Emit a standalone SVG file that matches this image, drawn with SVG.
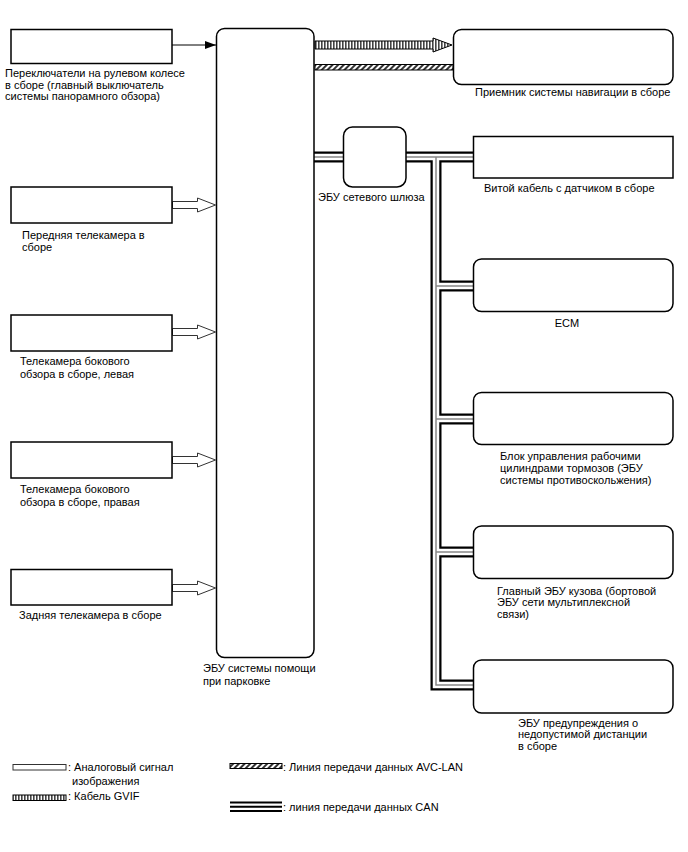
<svg xmlns="http://www.w3.org/2000/svg" width="688" height="852" viewBox="0 0 688 852">
<defs>
<style>
text{font-family:"Liberation Sans",Arial,sans-serif;font-size:11px;fill:#000}
.box{fill:#fff;stroke:#000;stroke-width:1.5}
.analog{fill:#fff;stroke:#333;stroke-width:1}
.canB{fill:none;stroke:#000;stroke-width:11}
.canW{fill:none;stroke:#fff;stroke-width:6.5}
.canG{fill:none;stroke:#888;stroke-width:1.5}
</style>
<pattern id="gvif" width="3" height="10" patternUnits="userSpaceOnUse">
<rect width="3" height="10" fill="#fff"/>
<rect width="1.6" height="10" fill="#444"/>
</pattern>
<pattern id="avc" width="4" height="4" patternUnits="userSpaceOnUse" patternTransform="rotate(45)">
<rect width="4" height="4" fill="#fff"/>
<rect width="2" height="4" fill="#333"/>
</pattern>
<marker id="tri" markerWidth="11" markerHeight="8" refX="11" refY="4" orient="auto" markerUnits="userSpaceOnUse">
<path d="M0,0 L11,4 L0,8 Z" fill="#000"/>
</marker>
<path id="analogArrow" d="M0,-3.5 H25 V-7 L43,0 L25,7 V3.5 H0 Z"/>
</defs>
<rect width="688" height="852" fill="#fff"/>

<g id="connectors">
<line x1="172" y1="45" x2="216" y2="45" stroke="#000" stroke-width="1" marker-end="url(#tri)"/>
<polygon points="315,41 433,41 433,38 452,45 433,52 433,49 315,49" fill="url(#gvif)" stroke="#000" stroke-width="1"/>
<rect x="315" y="64.5" width="138" height="5.5" fill="url(#avc)" stroke="#000" stroke-width="1"/>
<use href="#analogArrow" x="172.5" y="205" class="analog"/>
<use href="#analogArrow" x="172.5" y="332" class="analog"/>
<use href="#analogArrow" x="172.5" y="460" class="analog"/>
<use href="#analogArrow" x="172.5" y="588" class="analog"/>
<g id="can">
<path class="canB" d="M314,157 H343 M406,157 H473 M436,157 V685 H473 M436,286 H473 M436,419 H473 M436,552 H473"/>
<path class="canW" d="M314,157 H343 M406,157 H473 M436,157 V685 H473 M436,286 H473 M436,419 H473 M436,552 H473"/>
<path class="canG" d="M314,157 H343 M406,157 H473 M436,157 V685 H473 M436,286 H473 M436,419 H473 M436,552 H473"/>
</g>
</g>

<g id="steering-switch">
<rect class="box" x="11" y="29.5" width="161" height="34"/>
<text x="5" y="77">Переключатели на рулевом колесе</text>
<text x="5" y="88.7">в сборе (главный выключатель</text>
<text x="5" y="100.4">системы панорамного обзора)</text>
</g>
<g id="front-camera">
<rect class="box" x="11" y="187" width="161" height="36"/>
<text x="22" y="238.5">Передняя телекамера в</text>
<text x="22" y="251">сборе</text>
</g>
<g id="side-camera-left">
<rect class="box" x="11" y="315" width="161" height="36"/>
<text x="20" y="364.5">Телекамера бокового</text>
<text x="20" y="377.5">обзора в сборе, левая</text>
</g>
<g id="side-camera-right">
<rect class="box" x="11" y="442" width="161" height="36"/>
<text x="20" y="492.5">Телекамера бокового</text>
<text x="20" y="505.5">обзора в сборе, правая</text>
</g>
<g id="rear-camera">
<rect class="box" x="11" y="569.5" width="161" height="35.5"/>
<text x="19" y="619">Задняя телекамера в сборе</text>
</g>
<g id="parking-ecu">
<rect class="box" x="216.5" y="28.5" width="97.5" height="629" rx="8"/>
<text x="203" y="672">ЭБУ системы помощи</text>
<text x="203" y="684.5">при парковке</text>
</g>
<g id="nav-receiver">
<rect class="box" x="453.5" y="29.5" width="219.5" height="55" rx="8"/>
<text x="475" y="95.5">Приемник системы навигации в сборе</text>
</g>
<g id="gateway-ecu">
<rect class="box" x="343.5" y="127" width="62.5" height="60" rx="9"/>
<text x="318" y="201">ЭБУ сетевого шлюза</text>
</g>
<g id="spiral-cable">
<rect class="box" x="473.5" y="136.5" width="199.5" height="41.5"/>
<text x="484" y="191.5">Витой кабель с датчиком в сборе</text>
</g>
<g id="ecm">
<rect class="box" x="473.5" y="259" width="199.5" height="52.5" rx="8"/>
<text x="567" y="327" text-anchor="middle">ECM</text>
</g>
<g id="brake-ecu">
<rect class="box" x="473.5" y="392.5" width="199.5" height="52" rx="8"/>
<text x="500" y="459.5">Блок управления рабочими</text>
<text x="500" y="471.5">цилиндрами тормозов (ЭБУ</text>
<text x="500" y="483.5">системы противоскольжения)</text>
</g>
<g id="body-ecu">
<rect class="box" x="473.5" y="526" width="199.5" height="52.5" rx="8"/>
<text x="497" y="594.5">Главный ЭБУ кузова (бортовой</text>
<text x="497" y="606">ЭБУ сети мультиплексной</text>
<text x="497" y="617.5">связи)</text>
</g>
<g id="clearance-ecu">
<rect class="box" x="473.5" y="660" width="199.5" height="53" rx="8"/>
<text x="518" y="726.5">ЭБУ предупреждения о</text>
<text x="518" y="738">недопустимой дистанции</text>
<text x="518" y="750">в сборе</text>
</g>

<g id="legend">
<rect x="13" y="764.5" width="53" height="5.5" class="analog"/>
<text x="68" y="770.5">: Аналоговый сигнал</text>
<text x="72" y="785">изображения</text>
<rect x="13" y="795" width="53" height="5.5" fill="url(#gvif)" stroke="#000" stroke-width="1"/>
<text x="68" y="800">: Кабель GVIF</text>
<rect x="230" y="763.5" width="52" height="5" fill="url(#avc)" stroke="#000" stroke-width="1"/>
<text x="283" y="770.5">: Линия передачи данных AVC-LAN</text>
<line x1="230" y1="802.5" x2="282" y2="802.5" stroke="#000" stroke-width="2"/>
<line x1="230" y1="806.8" x2="282" y2="806.8" stroke="#000" stroke-width="2"/>
<line x1="230" y1="811" x2="282" y2="811" stroke="#000" stroke-width="2"/>
<text x="283" y="811">: линия передачи данных CAN</text>
</g>
</svg>
